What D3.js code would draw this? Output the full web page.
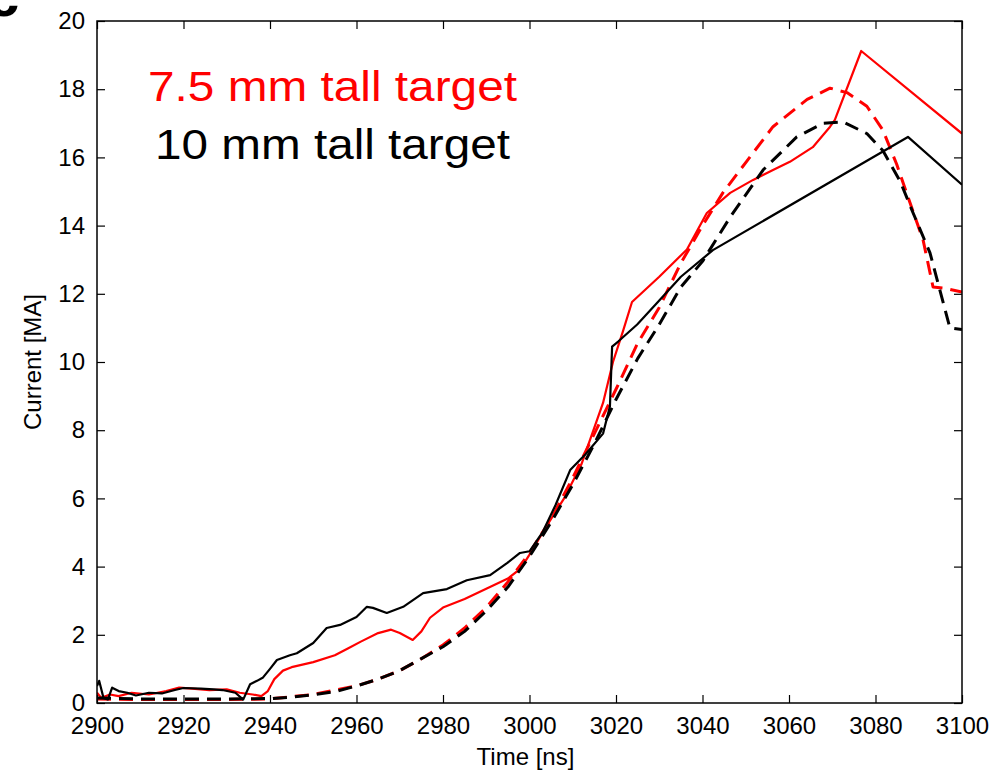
<!DOCTYPE html>
<html>
<head>
<meta charset="utf-8">
<script src="https://cdn.jsdelivr.net/npm/d3@7"></script>
<style>
  html, body { margin: 0; padding: 0; background: #fff; }
  svg { display: block; }
  text { font-family: "Liberation Sans", Arial, Helvetica, sans-serif; }
</style>
</head>
<body>
<svg id="chart" width="995" height="772"></svg>
<script>
// Current traces: measured (solid) and modelled (dashed) for two target heights.
const xTicks = [2900, 2920, 2940, 2960, 2980, 3000, 3020, 3040, 3060, 3080, 3100];
const yTicks = [0, 2, 4, 6, 8, 10, 12, 14, 16, 18, 20];

// 7.5 mm tall target, measured current [time ns, current MA]
const red75Measured = [
  [2900, 0.3], [2901, 0.15], [2903, 0.25], [2905, 0.2], [2908, 0.3], [2912, 0.25],
  [2916, 0.35], [2919, 0.45], [2922, 0.42], [2926, 0.38], [2930, 0.4], [2933, 0.3],
  [2936, 0.25], [2938, 0.2], [2939.5, 0.35], [2941, 0.7], [2943, 0.95], [2945, 1.05],
  [2950, 1.2], [2955, 1.4], [2958, 1.6], [2961, 1.8], [2965, 2.05], [2968, 2.15],
  [2970, 2.05], [2973, 1.85], [2975, 2.1], [2977, 2.5], [2980, 2.8], [2985, 3.05],
  [2990, 3.35], [2995, 3.65], [2998, 3.95], [3000, 4.35], [3004, 5.2], [3008, 6.0],
  [3012, 7.0], [3017, 8.8], [3019.3, 10.0], [3021.6, 10.9], [3023.7, 11.76],
  [3030, 12.5], [3036.4, 13.3], [3041, 14.37], [3046.4, 14.96], [3051.7, 15.34],
  [3056.3, 15.63], [3060.2, 15.87], [3065.5, 16.3], [3069.5, 16.9], [3070.6, 17.1],
  [3076.7, 19.12], [3100, 16.7]
];

// 7.5 mm tall target, modelled current
const red75Model = [
  [2900, 0.12], [2910, 0.1], [2920, 0.1], [2930, 0.1], [2940, 0.12], [2950, 0.25],
  [2960, 0.5], [2965, 0.7], [2970, 0.95], [2975, 1.3], [2980, 1.7], [2985, 2.2],
  [2990, 2.8], [2995, 3.55], [3000, 4.4], [3005, 5.4], [3010, 6.6], [3015, 7.9],
  [3020, 9.2], [3025, 10.55], [3030, 11.6], [3035, 12.9], [3040, 14.0], [3044.7, 14.96],
  [3050.3, 15.9], [3056.3, 16.9], [3064.2, 17.7], [3069.5, 18.03], [3073.4, 17.9],
  [3078, 17.5], [3081.7, 16.8], [3084.9, 15.8], [3088, 14.66], [3091, 13.58],
  [3093.3, 12.2], [3095.6, 12.17], [3100, 12.05]
];

// 10 mm tall target, measured current
const black10Measured = [
  [2900, 0.5], [2900.5, 0.65], [2901.5, 0.15], [2902.5, 0.1], [2903.5, 0.45], [2905, 0.35],
  [2907, 0.3], [2909, 0.22], [2912, 0.3], [2915, 0.28], [2918, 0.38], [2920, 0.44],
  [2924, 0.42], [2927, 0.4], [2929, 0.38], [2932, 0.3], [2933.8, 0.1], [2935.4, 0.55],
  [2937, 0.65], [2938.4, 0.75], [2940, 1.0], [2941.6, 1.26], [2944.6, 1.4], [2946.2, 1.46],
  [2950, 1.76], [2953.1, 2.2], [2956.2, 2.29], [2960, 2.52], [2962.4, 2.82], [2963.8, 2.79],
  [2967, 2.64], [2970.8, 2.82], [2975.4, 3.22], [2980.9, 3.34], [2985.5, 3.6], [2990.9, 3.75],
  [2994.8, 4.1], [2997.8, 4.4], [3000, 4.45], [3003, 5.0], [3006, 5.8], [3009.4, 6.83],
  [3013, 7.3], [3017, 7.9], [3018.6, 8.7], [3019.1, 10.45], [3020.5, 10.6], [3024.9, 11.1],
  [3030, 11.8], [3035, 12.5], [3042.4, 13.28], [3087.5, 16.6], [3100, 15.2]
];

// 10 mm tall target, modelled current
const black10Model = [
  [2900, 0.15], [2910, 0.12], [2920, 0.12], [2930, 0.12], [2940, 0.13], [2945, 0.17],
  [2950, 0.24], [2955, 0.33], [2960, 0.5], [2965, 0.7], [2970, 0.95], [2975, 1.3],
  [2980, 1.65], [2985, 2.1], [2990, 2.7], [2995, 3.4], [3000, 4.3], [3005, 5.3],
  [3010, 6.4], [3015, 7.6], [3020, 8.9], [3025, 10.1], [3030, 11.1], [3035, 12.2],
  [3040, 12.95], [3046.4, 14.25], [3054, 15.63], [3061.8, 16.6], [3067.9, 17.0],
  [3072.5, 17.04], [3078, 16.7], [3081.7, 16.2], [3085.7, 15.3], [3088.7, 14.37],
  [3092.6, 13.2], [3094.9, 12.1], [3097.2, 11.0], [3100, 10.95]
];

const legendLabels = ["7.5 mm tall target", "10 mm tall target"];

const margin = { left: 97, top: 21, right: 33, bottom: 69 };
const W = 995, H = 772;
const pw = W - margin.left - margin.right;
const ph = H - margin.top - margin.bottom;

const svg = d3.select("#chart");
const g = svg.append("g").attr("transform", `translate(${margin.left},${margin.top})`);

const x = d3.scaleLinear().domain([2900, 3100]).range([0, pw]);
const y = d3.scaleLinear().domain([0, 20]).range([ph, 0]);

svg.append("defs").append("clipPath").attr("id", "plotClip")
  .append("rect").attr("x", 0).attr("y", 0).attr("width", pw).attr("height", ph);

const line = d3.line().x(d => x(d[0])).y(d => y(d[1]));
const plot = g.append("g").attr("clip-path", "url(#plotClip)");

const series = [
  { data: red75Measured, color: "#ff0000", dash: null, width: 2.2 },
  { data: red75Model, color: "#ff0000", dash: "14,8", width: 3 },
  { data: black10Measured, color: "#000000", dash: null, width: 2.2 },
  { data: black10Model, color: "#000000", dash: "14,8", width: 3 }
];
series.forEach(s => {
  plot.append("path")
    .datum(s.data)
    .attr("d", line)
    .attr("fill", "none")
    .attr("stroke", s.color)
    .attr("stroke-width", s.width)
    .attr("stroke-dasharray", s.dash)
    .attr("stroke-linejoin", "round");
});

// Axes with inward ticks on all four sides
const tickLen = 8;
const fmt = d3.format("d");
const axStyle = sel => {
  sel.select(".domain").remove();
  sel.selectAll("line").attr("stroke", "#000").attr("stroke-width", 1.2);
  sel.selectAll("text").attr("fill", "#000").style("font-size", "24px");
};

g.append("g").attr("transform", `translate(0,${ph})`)
  .call(d3.axisBottom(x).tickValues(xTicks).tickFormat(fmt).tickSizeInner(-tickLen).tickPadding(14))
  .call(axStyle);
g.append("g")
  .call(d3.axisTop(x).tickValues(xTicks).tickFormat("").tickSizeInner(-tickLen))
  .call(axStyle);
g.append("g")
  .call(d3.axisLeft(y).tickValues(yTicks).tickFormat(fmt).tickSizeInner(-tickLen).tickPadding(12))
  .call(axStyle);
g.append("g").attr("transform", `translate(${pw},0)`)
  .call(d3.axisRight(y).tickValues(yTicks).tickFormat("").tickSizeInner(-tickLen))
  .call(axStyle);

g.append("rect").attr("x", 0).attr("y", 0).attr("width", pw).attr("height", ph)
  .attr("fill", "none").attr("stroke", "#000").attr("stroke-width", 1.5);

// Axis titles
svg.append("text")
  .attr("x", margin.left + pw / 2 - 4).attr("y", 765)
  .attr("text-anchor", "middle").style("font-size", "24px").text("Time [ns]");
svg.append("text")
  .attr("transform", `translate(41,${margin.top + ph / 2}) rotate(-90)`)
  .attr("text-anchor", "middle").style("font-size", "24px").text("Current [MA]");

// Legend text
svg.append("text").attr("x", 148).attr("y", 101)
  .attr("fill", "#ff0000").style("font-size", "43px")
  .attr("textLength", 369).attr("lengthAdjust", "spacingAndGlyphs")
  .text(legendLabels[0]);
svg.append("text").attr("x", 155).attr("y", 159)
  .attr("fill", "#000").style("font-size", "43px")
  .attr("textLength", 355).attr("lengthAdjust", "spacingAndGlyphs")
  .text(legendLabels[1]);

// Panel letter, cut by the top edge
svg.append("text").attr("x", -13).attr("y", 16)
  .style("font-size", "58px").style("font-weight", "bold").text("c");
</script>
</body>
</html>
